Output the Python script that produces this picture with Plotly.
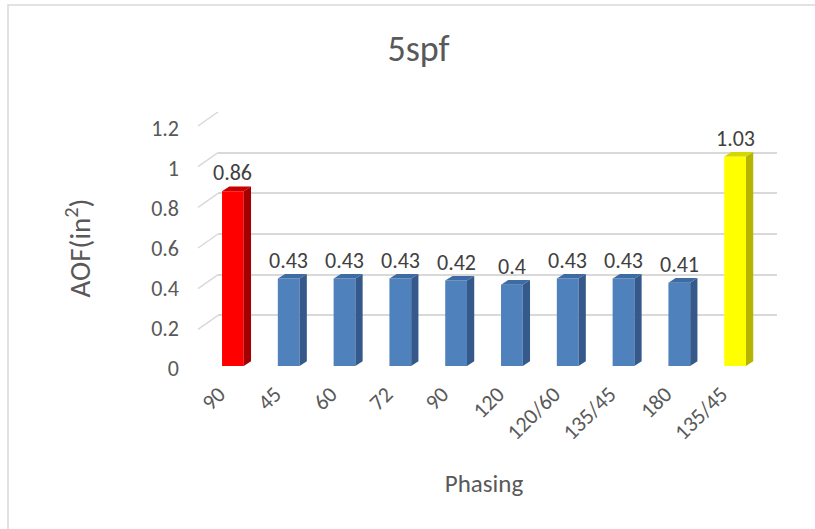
import plotly.graph_objects as go

phasing = ["90", "45", "60", "72", "90", "120", "120/60", "135/45", "180", "135/45"]
aof = [0.86, 0.43, 0.43, 0.43, 0.42, 0.40, 0.43, 0.43, 0.41, 1.03]
front_colors = ["#FF0000"] + ["#4F81BD"] * 8 + ["#FFFF00"]
side_colors = ["#A30000"] + ["#34598A"] * 8 + ["#B5B500"]
top_colors = ["#C80000"] + ["#3E6BA3"] * 8 + ["#D6D600"]
y_ticks = [0, 0.2, 0.4, 0.6, 0.8, 1.0, 1.2]

FONT = "Carlito, Calibri, Lato, sans-serif"
GRID = "#D9D9D9"
TXT = "#595959"

idx = list(range(len(aof)))
half = 0.195   # half bar width (category units)
dx = 0.13      # depth offset in x (category units)
dy = 0.023     # depth offset in y (value units)

fig = go.Figure()

# back wall gridlines subplot (x/y)
fig.add_trace(go.Scatter(x=[0], y=[0], xaxis="x", yaxis="y", mode="markers",
                         marker=dict(opacity=0), hoverinfo="skip", showlegend=False))

# 3D side and top faces (x2/y2)
for i, v in zip(idx, aof):
    xs = [i + half, i + half + dx, i + half + dx, i + half, i + half]
    ys = [0, dy, v + dy, v, 0]
    fig.add_trace(go.Scatter(x=xs, y=ys, xaxis="x2", yaxis="y2", mode="lines",
                             fill="toself", fillcolor=side_colors[i],
                             line=dict(width=0, color=side_colors[i]),
                             hoverinfo="skip", showlegend=False))
    xt = [i - half, i + half, i + half + dx, i - half + dx, i - half]
    yt = [v, v, v + dy, v + dy, v]
    fig.add_trace(go.Scatter(x=xt, y=yt, xaxis="x2", yaxis="y2", mode="lines",
                             fill="toself", fillcolor=top_colors[i],
                             line=dict(width=0, color=top_colors[i]),
                             hoverinfo="skip", showlegend=False))

# front faces
fig.add_trace(go.Bar(x=idx, y=aof, width=2 * half, xaxis="x2", yaxis="y2",
                     marker=dict(color=front_colors, line=dict(width=0)),
                     showlegend=False))

# invisible anchors for the label axes
fig.add_trace(go.Scatter(x=[0], y=[0], xaxis="x3", yaxis="y2", mode="markers",
                         marker=dict(opacity=0), hoverinfo="skip", showlegend=False))
fig.add_trace(go.Scatter(x=[0], y=[0], xaxis="x2", yaxis="y3", mode="markers",
                         marker=dict(opacity=0), hoverinfo="skip", showlegend=False))

# value labels
for i, v in zip(idx, aof):
    fig.add_annotation(x=i, y=v, xref="x2", yref="y2", text=f"{v:g}",
                       showarrow=False, yanchor="bottom", yshift=3,
                       font=dict(family=FONT, size=22, color="#404040"))

# left diagonal stubs of the back-wall gridlines
for t in y_ticks:
    fig.add_shape(type="line", xref="x domain", yref="y",
                  xsizemode="pixel", xanchor=0, x0=-20, x1=0,
                  ysizemode="pixel", yanchor=t, y0=-14, y1=0,
                  line=dict(color=GRID, width=1.5))

# chart border
fig.add_shape(type="rect", xref="paper", yref="paper",
              x0=-0.3444, x1=1.2, y0=-1.0, y1=1.4147,
              line=dict(color=GRID, width=1.5), fillcolor="rgba(0,0,0,0)")

fig.update_layout(
    width=815, height=529,
    margin=dict(l=205, r=38, t=112, b=159),
    paper_bgcolor="white", plot_bgcolor="rgba(0,0,0,0)",
    title=dict(text="5spf", x=0.5135, xanchor="center", y=0.909, yanchor="middle",
               font=dict(family=FONT, size=36, color=TXT)),
    font=dict(family=FONT, color=TXT),
    # back wall
    xaxis=dict(domain=[0.02273, 1], range=[-0.5, 9.5], showgrid=False,
               showticklabels=False, zeroline=False, anchor="y"),
    yaxis=dict(domain=[0.05426, 1], range=[0, 1.2], tickvals=y_ticks,
               showgrid=True, gridcolor=GRID, gridwidth=1.5,
               showticklabels=False, zeroline=False, anchor="x"),
    # bars (front plane)
    xaxis2=dict(domain=[0, 0.97552], range=[-0.5, 9.5], anchor="y2",
                showticklabels=False, showgrid=False, zeroline=False, showline=False),
    yaxis2=dict(domain=[0.0155, 0.96124], range=[0, 1.2], anchor="x2",
                showticklabels=False, showgrid=False, zeroline=False, showline=False),
    # category labels
    xaxis3=dict(overlaying="x2", anchor="y2", range=[-0.25, 9.75],
                tickvals=idx, ticktext=phasing, tickangle=-45,
                showgrid=False, zeroline=False, showline=False,
                ticklabelstandoff=10,
                tickfont=dict(family=FONT, size=22, color=TXT),
                title=dict(text="Phasing", standoff=30,
                           font=dict(family=FONT, size=25, color=TXT))),
    # value axis labels
    yaxis3=dict(domain=[0.00775, 0.938], range=[0, 1.2], anchor="free", position=0,
                tickvals=y_ticks, ticktext=[f"{t:g}" for t in y_ticks],
                showgrid=False, zeroline=False, showline=False,
                ticklabelstandoff=26,
                tickfont=dict(family=FONT, size=22, color=TXT),
                title=dict(text="AOF(in<sup>2</sup>)", standoff=50,
                           font=dict(family=FONT, size=29, color=TXT))),
)

fig.write_html("out.html", config={"displayModeBar": False},
               post_script="document.body.style.margin='0';document.body.style.overflow='hidden';")
